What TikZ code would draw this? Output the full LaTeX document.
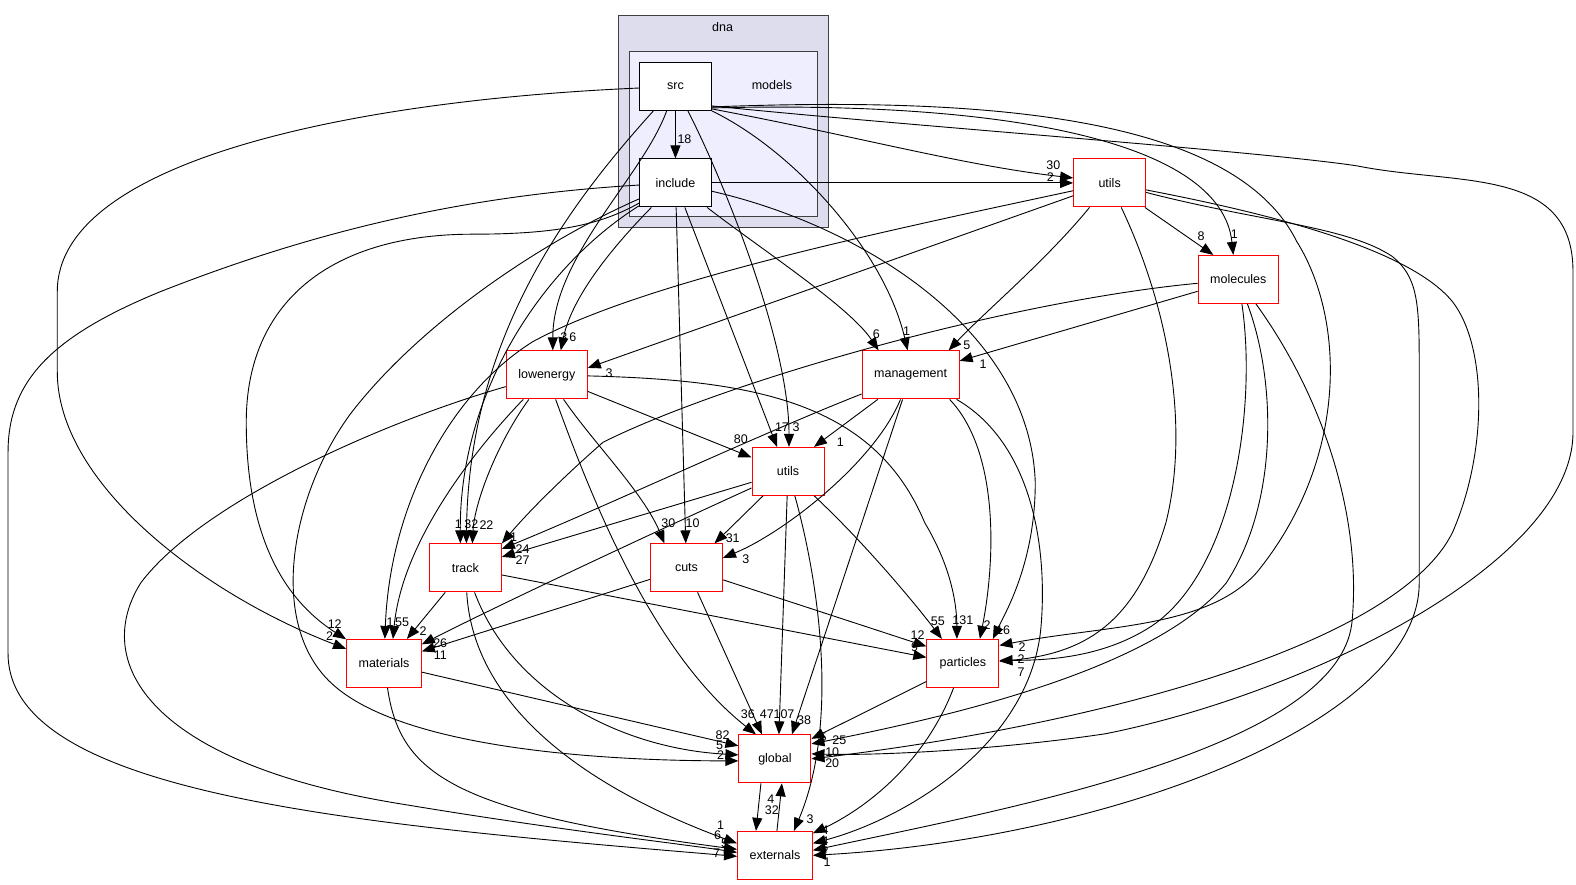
\documentclass[tikz,border=0pt]{standalone}
\usepackage{fontspec}
\setmainfont{Liberation Sans}
\usetikzlibrary{arrows.meta}
\definecolor{dnafill}{HTML}{DDDDEE}
\definecolor{modfill}{HTML}{EEEEFF}

\begin{document}
\begin{tikzpicture}[x=1.005pt, y=-1.005pt,
    font=\fontsize{12.5}{14}\selectfont,
    dirbox/.style={draw=red, fill=white, line width=1pt, minimum width=72pt, minimum height=48pt, inner xsep=12pt},
    subdir/.style={dirbox, draw=black},
    cluster/.style={draw=black!75, line width=1pt},
    dep/.style={-{Triangle[length=13pt,width=10pt]}, line width=0.9pt},
    cnt/.style={font=\fontsize{12.5}{13}\selectfont, inner sep=0pt}]
    \useasboundingbox (0,0) rectangle (1568,880);

    % Clusters
    \node (dna) [cluster, fill=dnafill, minimum width=210pt, minimum height=212pt] at (720,121) {};
    \node (dnatitle) at (719,27) {dna};
    \node (models) [cluster, fill=modfill, minimum width=188pt, minimum height=165pt] at (720,133.5) {};
    \node (modtitle) at (768,85) {models};

    % Nodes
    \node (src) [subdir] at (672,86) {src};
    \node (include) [subdir] at (672,182) {include};
    \node (utilstop) [dirbox] at (1104,182) {utils};
    \node (molecules) [dirbox] at (1232,278) {molecules};
    \node (lowenergy) [dirbox] at (544,373) {lowenergy};
    \node (management) [dirbox] at (906,373) {management};
    \node (utilsmid) [dirbox] at (784,469) {utils};
    \node (track) [dirbox] at (463,565) {track};
    \node (cuts) [dirbox] at (683,565) {cuts};
    \node (materials) [dirbox] at (382,660) {materials};
    \node (particles) [dirbox] at (958,660) {particles};
    \node (global) [dirbox] at (771,755) {global};
    \node (externals) [dirbox] at (771,851) {externals};

    % Arrows from src
    \draw[dep] (src) -- (include) node[cnt] at (681,138) {18};
    \draw[dep] (src) .. controls (350,100) and (57,160) .. (57,290) -- (57,370) .. controls (57,480) and (200,590) .. (materials) node[cnt] at (333,621) {12};
    \draw[dep] (src) .. controls (640,175) and (550,255) .. ([xshift=6]lowenergy.north) node[cnt] at (561,335) {3};
    \draw[dep] (src) .. controls (560,210) and (466,340) .. ([xshift=1]track.north) node[cnt] at (456,522) {1};
    \draw[dep] (src) .. controls (720,180) and (785,340) .. ([xshift=1]utilsmid.north) node[cnt] at (792,425) {3};
    \draw[dep] (src.south east) .. controls (790,150) and (880,250) .. ([xshift=-3]management.north) node[cnt] at (902,330) {1};
    \draw[dep] ([yshift=2]src.south east) .. controls (850,135) and (960,165) .. ([yshift=5]utilstop.west) node[cnt] at (1048,164) {30};
    \draw[dep] ([yshift=3]src.south east) .. controls (1000,100) and (1215,140) .. ([xshift=-5]molecules.north) node[cnt] at (1228,233) {1};
    \draw[dep] ([yshift=4]src.south east) .. controls (1000,95) and (1230,120) .. (1290,240) .. controls (1340,320) and (1340,460) .. (1250,570) .. controls (1200,625) and (1100,622) .. ([yshift=18]particles.east) node[cnt] at (1017,644) {2};
    \draw[dep] ([yshift=5]src.south east) .. controls (900,125) and (1250,150) .. (1350,165) .. controls (1450,185) and (1565,165) .. (1565,270) -- (1565,430) .. controls (1565,560) and (1300,690) .. (1100,730) .. controls (1000,745) and (880,752) .. ([yshift=5]global.east) node[cnt] at (828,748) {10};

    % Arrows from include
    \draw[dep] (include) -- (utilstop) node[cnt] at (1045,176) {2};
    \draw[dep] (include) .. controls (450,195) and (300,235) .. (160,290) .. controls (50,335) and (8,380) .. (8,450) -- (8,650) .. controls (8,790) and (350,820) .. ([yshift=-1]externals.west) node[cnt] at (713,849) {7};
    \draw[dep] (include) .. controls (600,222) and (560,233) .. (470,233) .. controls (330,233) and (245,300) .. (245,420) .. controls (245,530) and (280,595) .. (materials) node[cnt] at (328,633) {2};
    \draw[dep] (include) .. controls (540,240) and (420,320) .. (350,410) .. controls (290,490) and (265,620) .. (330,680) .. controls (400,745) and (600,757) .. ([yshift=-2]global.west) node[cnt] at (717,751) {2};
    \draw[dep] (include) .. controls (540,265) and (457,390) .. ([xshift=-5]track.north) node[cnt] at (469,522) {32};
    \draw[dep] (include) .. controls (620,235) and (570,290) .. ([xshift=14]lowenergy.north) node[cnt] at (570,335) {6};
    \draw[dep] (include) -- (cuts) node[cnt] at (689,521) {10};
    \draw[dep] (include) -- ([xshift=-11]utilsmid.north) node[cnt] at (778,425) {17};
    \draw[dep] (include) .. controls (760,250) and (845,305) .. ([xshift=-32]management.north) node[cnt] at (872,332) {6};
    \draw[dep] (include) .. controls (860,225) and (1025,330) .. (1030,480) .. controls (1030,560) and (1000,610) .. ([xshift=30]particles.north) node[cnt] at (998,627) {16};

    % Arrows from utils (top)
    \draw[dep] (utilstop) -- ([xshift=-25]molecules.north) node[cnt] at (1195,235) {8};
    \draw[dep] (utilstop) .. controls (1040,260) and (980,310) .. ([xshift=38]management.north) node[cnt] at (962,344) {5};
    \draw[dep] (utilstop) -- ([yshift=7]lowenergy.east) node[cnt] at (606,371) {3};
    \draw[dep] (utilstop) .. controls (880,230) and (640,280) .. (530,340) .. controls (450,390) and (388,500) .. (materials) node[cnt] at (388,619) {1};
    \draw[dep] (utilstop) .. controls (1160,300) and (1185,420) .. (1160,520) .. controls (1130,620) and (1080,650) .. ([yshift=2]particles.east) node[cnt] at (1016,669) {7};
    \draw[dep] (utilstop) .. controls (1250,210) and (1400,245) .. (1445,300) .. controls (1480,345) and (1480,450) .. (1445,530) .. controls (1390,640) and (1100,720) .. (global.east) node[cnt] at (828,759) {20};
    \draw[dep] (utilstop) .. controls (1250,220) and (1340,225) .. (1385,255) .. controls (1410,275) and (1412,300) .. (1412,360) -- (1412,580) .. controls (1412,720) and (1100,835) .. (externals.east) node[cnt] at (823,858) {1};

    % Arrows from molecules
    \draw[dep] (molecules) -- ([yshift=14]management.east) node[cnt] at (978,362) {1};
    \draw[dep] (molecules) .. controls (1000,300) and (720,380) .. (600,440) .. controls (560,475) and (525,510) .. (track.north east) node[cnt] at (511,534) {1};
    \draw[dep] (molecules) .. controls (1250,400) and (1230,560) .. (1150,620) .. controls (1100,655) and (1040,657) .. ([yshift=3]particles.east) node[cnt] at (1016,656) {2};
    \draw[dep] (molecules) .. controls (1270,380) and (1272,500) .. (1220,580) .. controls (1150,665) and (950,712) .. ([yshift=15]global.east) node[cnt] at (835,736) {25};
    \draw[dep] (molecules) .. controls (1320,400) and (1355,520) .. (1345,620) .. controls (1330,745) and (1000,805) .. ([yshift=5]externals.east) node[cnt] at (821,847) {2};

    % Arrows from lowenergy
    \draw[dep] (lowenergy) .. controls (495,440) and (472,500) .. ([xshift=7]track.north) node[cnt] at (484,522) {22};
    \draw[dep] (lowenergy) .. controls (470,450) and (400,540) .. ([xshift=9]materials.north) node[cnt] at (400,619) {55};
    \draw[dep] (lowenergy) .. controls (380,420) and (200,500) .. (140,580) .. controls (90,660) and (150,760) .. (400,800) .. controls (550,825) and (680,840) .. ([yshift=3]externals.west) node[cnt] at (721,839) {5};
    \draw[dep] (lowenergy) .. controls (590,500) and (650,650) .. ([xshift=-19]global.north) node[cnt] at (744,711) {36};
    \draw[dep] (lowenergy) .. controls (590,440) and (640,490) .. ([xshift=-22]cuts.north) node[cnt] at (665,521) {30};
    \draw[dep] (lowenergy) -- ([yshift=14]utilsmid.west) node[cnt] at (737,437) {80};
    \draw[dep] (lowenergy) .. controls (750,378) and (870,400) .. (920,520) .. controls (950,570) and (952,610) .. ([xshift=-6]particles.north) node[cnt] at (958,617) {131};

    % Arrows from management
    \draw[dep] (management) .. controls (760,430) and (600,505) .. ([yshift=19]track.east) node[cnt] at (520,546) {24};
    \draw[dep] (management) -- ([xshift=26]utilsmid.north) node[cnt] at (836,440) {1};
    \draw[dep] (management) .. controls (870,460) and (780,530) .. ([yshift=10]cuts.east) node[cnt] at (742,556) {3};
    \draw[dep] (management) -- ([xshift=17]global.north) node[cnt] at (800,717) {38};
    \draw[dep] ([xshift=-10]management.south east) .. controls (995,450) and (990,560) .. ([xshift=17]particles.north) node[cnt] at (982,622) {2};
    \draw[dep] ([xshift=-3]management.south east) .. controls (1025,440) and (1042,540) .. (1036,620) .. controls (1028,740) and (900,815) .. ([yshift=12]externals.east) node[cnt] at (821,837) {4};

    % Arrows from utils (middle)
    \draw[dep] (utilsmid) -- ([yshift=11]track.east) node[cnt] at (520,557) {27};
    \draw[dep] (utilsmid) .. controls (650,530) and (500,600) .. ([yshift=19]materials.east) node[cnt] at (438,640) {26};
    \draw[dep] (utilsmid) -- ([xshift=28]cuts.north) node[cnt] at (729,535) {31};
    \draw[dep] (utilsmid) -- ([xshift=4]global.north) node[cnt] at (780,711) {107};
    \draw[dep] (utilsmid) .. controls (815,580) and (835,720) .. ([xshift=19]externals.north) node[cnt] at (806,815) {3};
    \draw[dep] (utilsmid) .. controls (860,540) and (910,600) .. ([xshift=-21]particles.north) node[cnt] at (933,618) {55};

    % Arrows from track
    \draw[dep] (track) -- ([xshift=23]materials.north) node[cnt] at (421,628) {2};
    \draw[dep] (track) -- ([yshift=6]particles.west) node[cnt] at (910,644) {9};
    \draw[dep] (track) .. controls (510,690) and (620,745) .. ([yshift=4]global.west) node[cnt] at (716,741) {5};
    \draw[dep] (track) .. controls (470,690) and (560,775) .. ([yshift=12]externals.west) node[cnt] at (717,821) {1};

    % Arrows from cuts
    \draw[dep] (cuts) -- ([yshift=12]materials.east) node[cnt] at (438,652) {11};
    \draw[dep] (cuts) -- ([yshift=17]particles.west) node[cnt] at (913,632) {12};
    \draw[dep] (cuts) -- ([xshift=-13]global.north) node[cnt] at (763,711) {47};

    % Arrows from materials and particles
    \draw[dep] (materials) -- ([yshift=13]global.west) node[cnt] at (719,731) {82};
    \draw[dep] (materials) .. controls (398,770) and (450,808) .. ([yshift=6]externals.west) node[cnt] at (714,831) {6};
    \draw[dep] (particles) -- ([yshift=20]global.east) node[cnt] at (819,734) {5};
    \draw[dep] (particles) .. controls (920,760) and (860,805) .. ([yshift=22]externals.east) node[cnt] at (821,826) {4};

    % global and externals
    \draw[dep] ([xshift=-14]global.south) -- ([xshift=-19]externals.north) node[cnt] at (768,806) {32};
    \draw[dep] ([xshift=2]externals.north) -- ([xshift=7]global.south) node[cnt] at (767,795) {4};
\end{tikzpicture}
\end{document}
